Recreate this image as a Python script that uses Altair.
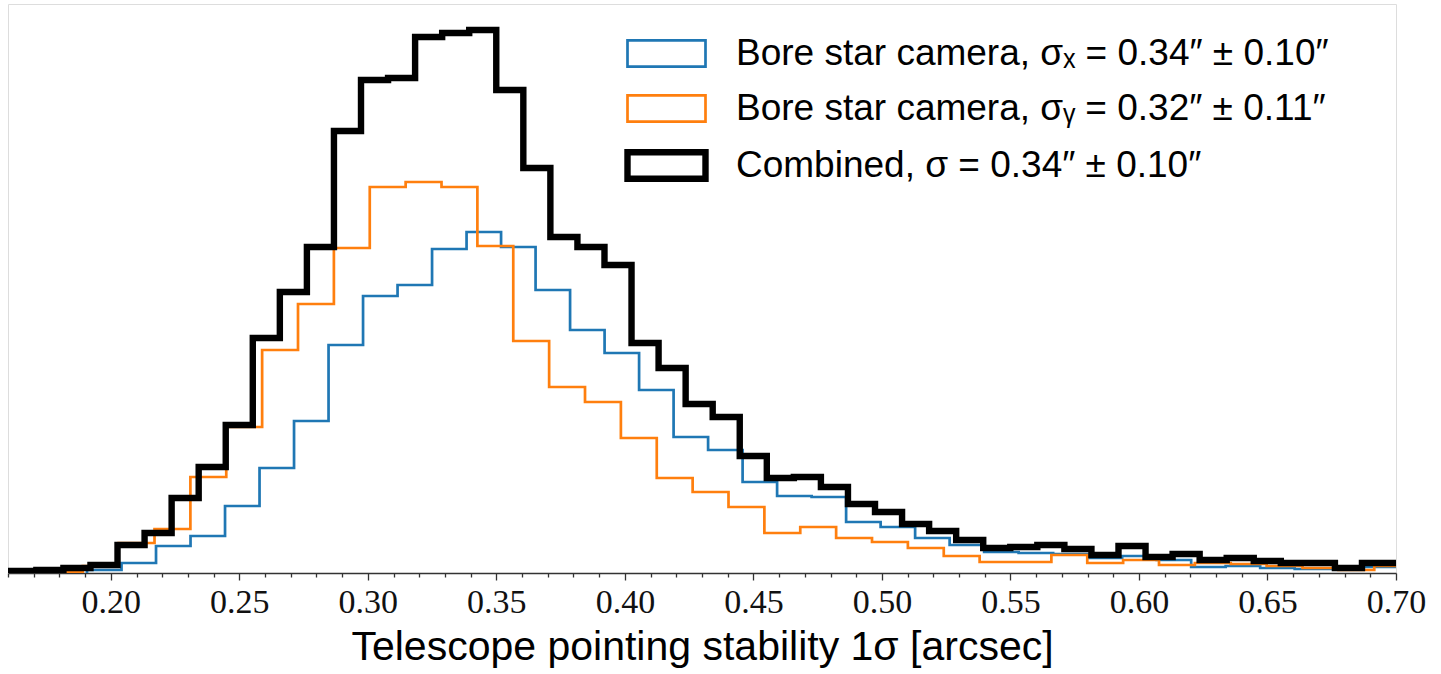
import altair as alt
import pandas as pd

# Series labels, colours and line widths
series = [
    "Bore star camera, σₓ = 0.34″ ± 0.10″",
    "Bore star camera, σᵧ = 0.32″ ± 0.11″",
    "Combined, σ = 0.34″ ± 0.10″",
]
colors = ["#1f77b4", "#ff7f0e", "#000000"]
widths = [2.7, 2.7, 6.4]

# Histogram binning (left edge of first bin, bin width) in arcsec
x_first_edge, x_bin_width = 0.19074, 0.013424
y_first_edge, y_bin_width = 0.17513, 0.013957
c_first_edge, c_bin_width = 0.16051, 0.010525

# Bin counts
x_counts = [3, 10, 27, 37, 67, 105, 152, 228, 277, 288, 324, 341, 326, 283,
            243, 220, 183, 136, 123, 91, 77, 76, 51, 46, 35, 28, 21, 20, 19,
            15, 17, 13, 6, 7, 5, 4, 4, 6]
y_counts = [1, 7, 30, 44, 96, 146, 223, 269, 325, 386, 391, 386, 327, 232,
            186, 171, 135, 95, 81, 66, 40, 46, 35, 31, 25, 17, 11, 11, 18,
            10, 13, 8, 10, 9, 7, 5, 3, 7]
c_counts = [2, 3, 5, 8, 28, 40, 75, 106, 148, 235, 281, 326, 442, 493, 495,
            536, 540, 543, 483, 405, 336, 326, 308, 230, 205, 169, 156, 117,
            95, 96, 86, 69, 61, 49, 42, 33, 25, 26, 28, 24, 18, 27, 16, 19,
            13, 15, 12, 10, 10, 5, 10, 10]

x_range = [0.16, 0.70]
y_range = [0, 569]
major_ticks = [0.20, 0.25, 0.30, 0.35, 0.40, 0.45, 0.50, 0.55, 0.60, 0.65, 0.70]
minor_step = 0.01
x_title = "Telescope pointing stability 1σ [arcsec]"


def step_outline(name, first_edge, width, counts):
    """Vertices of a step-type histogram outline (like histtype='step')."""
    edges = [first_edge + i * width for i in range(len(counts) + 1)]
    pts = [(edges[0], 0)]
    for i, c in enumerate(counts):
        pts.append((edges[i], c))
        pts.append((edges[i + 1], c))
    pts.append((edges[-1], 0))
    return [{"series": name, "x": px, "y": py, "i": k} for k, (px, py) in enumerate(pts)]


rows = []
rows += step_outline(series[0], x_first_edge, x_bin_width, x_counts)
rows += step_outline(series[1], y_first_edge, y_bin_width, y_counts)
rows += step_outline(series[2], c_first_edge, c_bin_width, c_counts)
df = pd.DataFrame(rows)

n_minor = int(round((x_range[1] - x_range[0]) / minor_step))
tick_values = [round(x_range[0] + k * minor_step, 2) for k in range(n_minor + 1)]
major_test = "round(datum.value * 100) % 5 === 0"

x_axis = alt.Axis(
    values=tick_values,
    labelExpr=f"{major_test} ? format(datum.value, '.2f') : ''",
    tickSize={"condition": {"test": major_test, "value": 7}, "value": 4},
    tickWidth=1.3,
    tickColor="#333333",
    domainColor="#333333",
    domainWidth=1.5,
    grid=False,
    labelFont="Liberation Serif",
    labelFontSize=34,
    labelColor="#111111",
    labelPadding=5,
    labelFlush=False,
    labelOverlap=False,
    title=x_title,
    titleFont="Liberation Sans",
    titleFontSize=41,
    titleFontWeight="normal",
    titleColor="#000000",
    titlePadding=8,
)

# wide rectangular legend swatch; the path extends past the unit box so the
# nominal symbol size (and with it the row height) stays compact
legend = alt.Legend(
    title=None,
    orient="none",
    legendX=625,
    legendY=18,
    padding=0,
    symbolType="M-1.3,-0.44H1.3V0.44H-1.3Z",
    symbolSize=3600,
    symbolFillColor="white",
    labelFont="Liberation Sans",
    labelFontSize=37,
    labelColor="#000000",
    labelOffset=36,
    labelLimit=0,
    rowPadding=4,
)

chart = (
    alt.Chart(df)
    .mark_line(clip=True, strokeJoin="miter", strokeCap="butt")
    .encode(
        x=alt.X("x:Q", scale=alt.Scale(domain=x_range, nice=False, zero=False), axis=x_axis),
        y=alt.Y("y:Q", scale=alt.Scale(domain=y_range, nice=False), axis=None),
        color=alt.Color("series:N", scale=alt.Scale(domain=series, range=colors), legend=legend),
        strokeWidth=alt.StrokeWidth(
            "series:N",
            scale=alt.Scale(type="ordinal", domain=series, range=widths),
            legend=legend,
        ),
        order=alt.Order("i:Q"),
    )
    .properties(
        width=1388,
        height=569,
        autosize=alt.AutoSizeParams(type="none"),
        padding={"left": 8, "top": 4, "right": 45, "bottom": 101},
    )
    .configure_view(stroke="#444444", strokeWidth=1.5)
    .configure(background="white")
)

chart.save("out.html", embed_options={"renderer": "svg", "actions": False})
